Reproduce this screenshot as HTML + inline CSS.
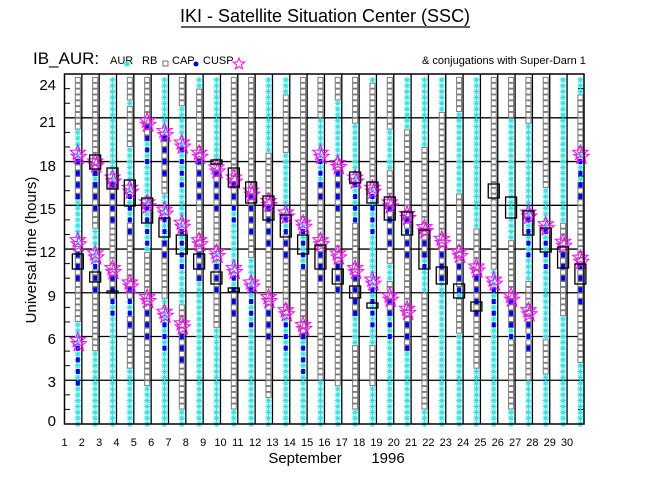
<!DOCTYPE html>
<html><head><meta charset="utf-8"><style>
html,body{margin:0;padding:0;background:#fff;}
svg{display:block;font-family:"Liberation Sans",sans-serif;}
</style></head><body>
<svg id="s" width="650" height="500" viewBox="0 0 650 500" xmlns="http://www.w3.org/2000/svg">
<rect width="650" height="500" fill="#fff"/>
<text x="325" y="22" font-size="18" text-anchor="middle" fill="#000">IKI - Satellite Situation Center (SSC)</text>
<line x1="181" y1="27" x2="470" y2="27" stroke="#000" stroke-width="1.2"/>
<text x="33" y="64" font-size="17" fill="#000">IB_AUR:</text>
<text x="110" y="64" font-size="11" fill="#000">AUR</text>
<text x="142" y="64" font-size="11" fill="#000">RB</text>
<rect x="163" y="61" width="5" height="5" fill="none" stroke="#707070"/>
<text x="172" y="64" font-size="11" fill="#000">CAP</text>
<circle cx="196" cy="64" r="2.5" fill="#0000ff"/>
<text x="203" y="64" font-size="11" fill="#000">CUSP</text>
<text x="422" y="64" font-size="11" fill="#000">&amp; conjugations with Super-Darn 1</text>
<text transform="translate(36,250) rotate(-90)" font-size="15" text-anchor="middle" fill="#000">Universal time (hours)</text>
<text x="305" y="463" font-size="15" text-anchor="middle" fill="#000">September</text>
<text x="388" y="463" font-size="15" text-anchor="middle" fill="#000">1996</text>
<g id="g"></g>
</svg>
<script>
(function(){
var g=document.getElementById('g'),h='';
function Y(t){return 424-14.58*t;}
function L(d){return 64.5+(d-1)*17.33;}
function CX(k){return 60.5+(k-1)*17.33;}
var lab={24:85,21:122,18:166,15:209,12:252,9:296,6:339,3:382,0:421};
for(var k in lab){h+='<text x="56" y="'+(lab[k]+5)+'" font-size="15" text-anchor="end">'+k+'</text>';}
for(var d=1;d<=30;d++){h+='<text x="'+L(d)+'" y="446" font-size="11" text-anchor="middle">'+d+'</text>';}
for(var t=3;t<24;t+=3){h+='<line x1="64.5" x2="584" y1="'+Y(t)+'" y2="'+Y(t)+'" stroke="#000" stroke-width="1.3"/>';}
for(var d=2;d<=30;d++){h+='<line x1="'+L(d)+'" x2="'+L(d)+'" y1="74" y2="424" stroke="#000" stroke-width="1.3"/>';}
for(var t=1;t<24;t++){if(t%3){var y=Y(t);h+='<line x1="64.5" x2="70" y1="'+y+'" y2="'+y+'" stroke="#000"/><line x1="578" x2="584" y1="'+y+'" y2="'+y+'" stroke="#000"/>';}}
var s=12345;function r(){s=(s*1103515245+12345)%2147483648;return s/2147483648;}
var stars={2:[18.6,12.6,5.75],3:[18,11.7],4:[16.9,10.7],5:[16.2,9.7],6:[20.8,15.2,8.7],7:[20.1,14.7,7.7],8:[19.3,13.8,6.9],9:[18.6,12.6],10:[17.6,11.8],11:[16.9,10.7],12:[16,9.7],13:[15.3,8.7],14:[14.5,7.8],15:[13.8,6.8],16:[18.6,12.6],17:[17.9,11.7],18:[16.9,10.7],19:[16.2,9.9],20:[15.2,8.8],21:[14.4,7.9],22:[13.5],23:[12.7],24:[11.8],25:[10.8],26:[9.9],27:[8.8],28:[14.5,7.8],29:[13.7],30:[12.5],31:[18.6,11.4]};
var mk='',bl='',st='';
for(var k=2;k<=31;k++){
 var x=CX(k);
 var gs=[];var n=3+Math.floor(r()*3);
 for(var i=0;i<n;i++){var a=r()*23;gs.push([a,a+2+r()*5]);}
 var ss=stars[k]||[];
 var idx=0;
 for(var t=0;t<=23.9;t+=0.4){
  var y=Y(t);idx++;
  var blue=false;
  for(var j=0;j<ss.length;j++){if(t<=ss[j]-0.3&&t>=ss[j]-3.2)blue=true;}
  var gray=false;for(var j=0;j<gs.length;j++){if(t>=gs[j][0]&&t<=gs[j][1])gray=true;}
  if(t<1.2)gray=false;
  if(gray){mk+='<rect x="'+(x-2.5)+'" y="'+(y-2.5)+'" width="5" height="5" fill="#fff" stroke="#7a7a7a" stroke-width="1"/>';}
  else{mk+='<path d="M'+(x-3)+' '+y+'h6M'+x+' '+(y-3)+'v6M'+(x-2.2)+' '+(y-2.2)+'l4.4 4.4M'+(x+2.2)+' '+(y-2.2)+'l-4.4 4.4" stroke="#20e8e8" stroke-width="1"/>';}
  if(blue&&idx%2==0){bl+='<rect x="'+(x-2)+'" y="'+(y-2.5)+'" width="4" height="5" fill="#0000ff"/>';}
 }
 for(var j=0;j<ss.length;j++){
  var cy=Y(ss[j]),p='';
  for(var q=0;q<10;q++){var R=q%2?3.4:8,an=-Math.PI/2+q*Math.PI/5;p+=(q?'L':'M')+(x+R*Math.cos(an)).toFixed(1)+' '+(cy+R*Math.sin(an)).toFixed(1);}
  st+='<path d="'+p+'Z" fill="none" stroke="#ff00ff" stroke-width="1"/>';
  st+='<path d="'+p+'Z" fill="none" stroke="#ff00ff" stroke-width="1" transform="translate(1,4)"/>';
 }
}
var bx=[[2,254,269],[3,155,169],[3,272,282],[4,168,189],[4,291,293],[5,180,206],[6,198,223],[7,218,237],[8,235,254],[9,254,269],[10,160,164],[10,272,284],[11,168,187],[11,288,292],[12,182,203],[13,196,220],[14,215,237],[15,235,254],[16,245,269],[17,269,284],[18,172,183],[18,286,298],[19,182,203],[19,303,308],[20,197,220],[21,212,235],[22,230,269],[23,267,284],[24,284,298],[25,302,311],[26,184,198],[27,197,218],[28,211,235],[29,228,252],[30,247,268],[31,264,284]];
var bb='';
bx.forEach(function(b){var x=CX(b[0]);bb+='<rect x="'+(x-5.5)+'" y="'+b[1]+'" width="11" height="'+(b[2]-b[1])+'" fill="none" stroke="#000" stroke-width="1.3"/>';});
h+=mk+bl+st+bb;
h+='<rect x="64.5" y="74" width="519.5" height="350" fill="none" stroke="#000" stroke-width="1.5"/>';
h+='<path d="M124 64h6M127 61v6M125 62l4 4M129 62l-4 4" stroke="#20e8e8" stroke-width="1.2"/>';
var p='',x=239,cy=64;for(var q=0;q<10;q++){var R=q%2?2.6:6,an=-Math.PI/2+q*Math.PI/5;p+=(q?'L':'M')+(x+R*Math.cos(an)).toFixed(1)+' '+(cy+R*Math.sin(an)).toFixed(1);}
h+='<path d="'+p+'Z" fill="none" stroke="#ff00ff"/>';
g.innerHTML=h;
})();
</script>
</body></html>
